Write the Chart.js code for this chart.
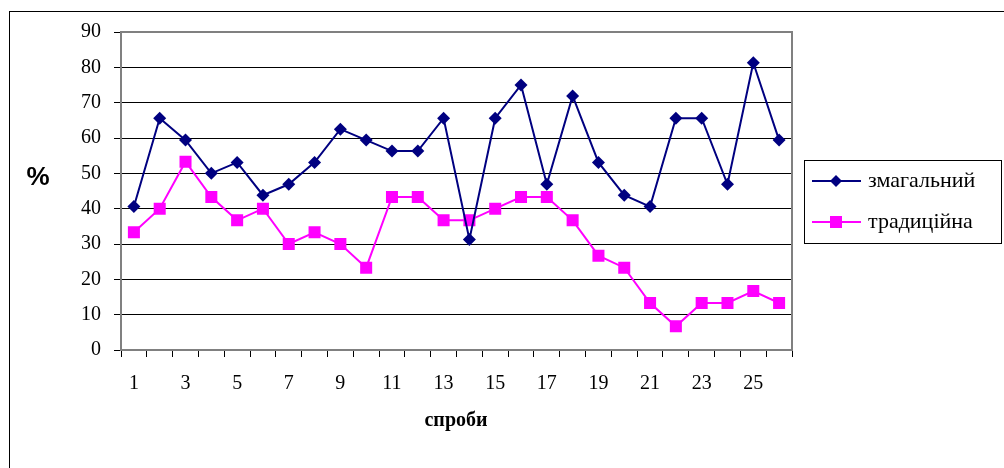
<!DOCTYPE html>
<html>
<head>
<meta charset="utf-8">
<script src="https://cdn.jsdelivr.net/npm/chart.js@4.4.1/dist/chart.umd.min.js"></script>
<style>
html,body{margin:0;padding:0;background:#fff;}
#wrap{width:1004px;height:468px;position:relative;}
</style>
</head>
<body>
<div id="wrap"><canvas id="c" width="1004" height="468"></canvas></div>
<script>
const categories = ['1','2','3','4','5','6','7','8','9','10','11','12','13','14','15','16','17','18','19','20','21','22','23','24','25','26'];
const seriesNames = ['змагальний', 'традиційна'];
const competitive = [40.6,65.6,59.4,50,53.1,43.8,46.9,53.1,62.5,59.4,56.3,56.3,65.6,31.3,65.6,75,46.9,71.9,53.1,43.8,40.6,65.6,65.6,46.9,81.3,59.4];
const traditional = [33.3,40,53.3,43.3,36.7,40,30,33.3,30,23.3,43.3,43.3,36.7,36.7,40,43.3,43.3,36.7,26.7,23.3,13.3,6.7,13.3,13.3,16.7,13.3];
const yTicks = [0,10,20,30,40,50,60,70,80,90];
const yTitle = '%';
const xTitle = 'спроби';

const serif = '"Liberation Serif", "Times New Roman", serif';

const decor = {
  id: 'decor',
  beforeDraw(chart) {
    const ctx = chart.ctx;
    ctx.save();
    ctx.fillStyle = '#fff';
    ctx.fillRect(0, 0, chart.width, chart.height);
    ctx.strokeStyle = '#000';
    ctx.lineWidth = 1;
    ctx.strokeRect(9.5, 11.5, 1100, 600);
    ctx.restore();
  },
  afterDraw(chart) {
    const ctx = chart.ctx;
    const a = chart.chartArea;
    ctx.save();
    ctx.strokeStyle = '#808080';
    ctx.lineWidth = 2;
    ctx.beginPath();
    ctx.moveTo(a.left, a.top);
    ctx.lineTo(a.right, a.top);
    ctx.lineTo(a.right, a.bottom);
    ctx.stroke();
    ctx.fillStyle = '#000';
    ctx.textAlign = 'center';
    ctx.textBaseline = 'middle';
    ctx.font = 'bold 26px "Liberation Sans", Arial, sans-serif';
    ctx.fillText(yTitle, 38, 178);
    ctx.font = 'bold 20px ' + serif;
    ctx.fillText(xTitle, 456, 421);
    const lx = 804.5, ly = 160.5, lw = 197, lh = 83;
    ctx.strokeStyle = '#000';
    ctx.lineWidth = 1;
    ctx.strokeRect(lx, ly, lw, lh);
    const rows = [181, 222];
    chart.data.datasets.forEach((ds, i) => {
      const y = rows[i];
      ctx.strokeStyle = ds.borderColor;
      ctx.lineWidth = 2;
      ctx.beginPath();
      ctx.moveTo(812, y);
      ctx.lineTo(861, y);
      ctx.stroke();
      ctx.fillStyle = ds.backgroundColor;
      if (ds.pointStyle === 'rectRot') {
        ctx.beginPath();
        ctx.moveTo(836, y - 6);
        ctx.lineTo(842, y);
        ctx.lineTo(836, y + 6);
        ctx.lineTo(830, y);
        ctx.closePath();
        ctx.fill();
      } else {
        ctx.fillRect(830, y - 6, 12, 12);
      }
      ctx.fillStyle = '#000';
      ctx.textAlign = 'left';
      ctx.textBaseline = 'middle';
      ctx.font = '22px ' + serif;
      ctx.fillText(ds.label, 868, y);
    });
    ctx.restore();
  }
};

new Chart(document.getElementById('c'), {
  type: 'line',
  data: {
    labels: categories,
    datasets: [
      {
        label: seriesNames[0],
        data: competitive,
        borderColor: '#000080',
        backgroundColor: '#000080',
        borderWidth: 2,
        pointStyle: 'rectRot',
        pointRadius: 6.5,
        pointHoverRadius: 6.5,
        pointBorderWidth: 0,
        tension: 0
      },
      {
        label: seriesNames[1],
        data: traditional,
        borderColor: '#ff00ff',
        backgroundColor: '#ff00ff',
        borderWidth: 2,
        pointStyle: 'rect',
        pointRadius: 8.5,
        pointHoverRadius: 8.5,
        pointBorderWidth: 0,
        tension: 0
      }
    ]
  },
  options: {
    responsive: false,
    animation: false,
    events: [],
    layout: { padding: { left: 0, top: 32, right: 212, bottom: 0 } },
    plugins: { legend: { display: false }, tooltip: { enabled: false } },
    scales: {
      x: {
        type: 'category',
        offset: true,
        afterFit(scale) { scale.height = 118; },
        grid: { offset: true, drawOnChartArea: false, drawTicks: true, tickLength: 7, color: '#000', lineWidth: 1 },
        border: { display: true, color: '#808080', width: 2 },
        ticks: {
          autoSkip: false,
          maxRotation: 0,
          padding: 15,
          color: '#000',
          font: { family: serif, size: 20 },
          callback(v, i) { return i % 2 === 0 ? categories[i] : ''; }
        }
      },
      y: {
        min: 0,
        max: 90,
        afterFit(scale) { scale.width = 121; },
        afterBuildTicks(scale) { scale.ticks = yTicks.map(v => ({ value: v })); },
        grid: { drawTicks: true, tickLength: 7, color: '#000', lineWidth: 1 },
        border: { display: true, color: '#808080', width: 2 },
        ticks: {
          padding: 13,
          color: '#000',
          font: { family: serif, size: 20 }
        }
      }
    }
  },
  plugins: [decor]
});
</script>
</body>
</html>
